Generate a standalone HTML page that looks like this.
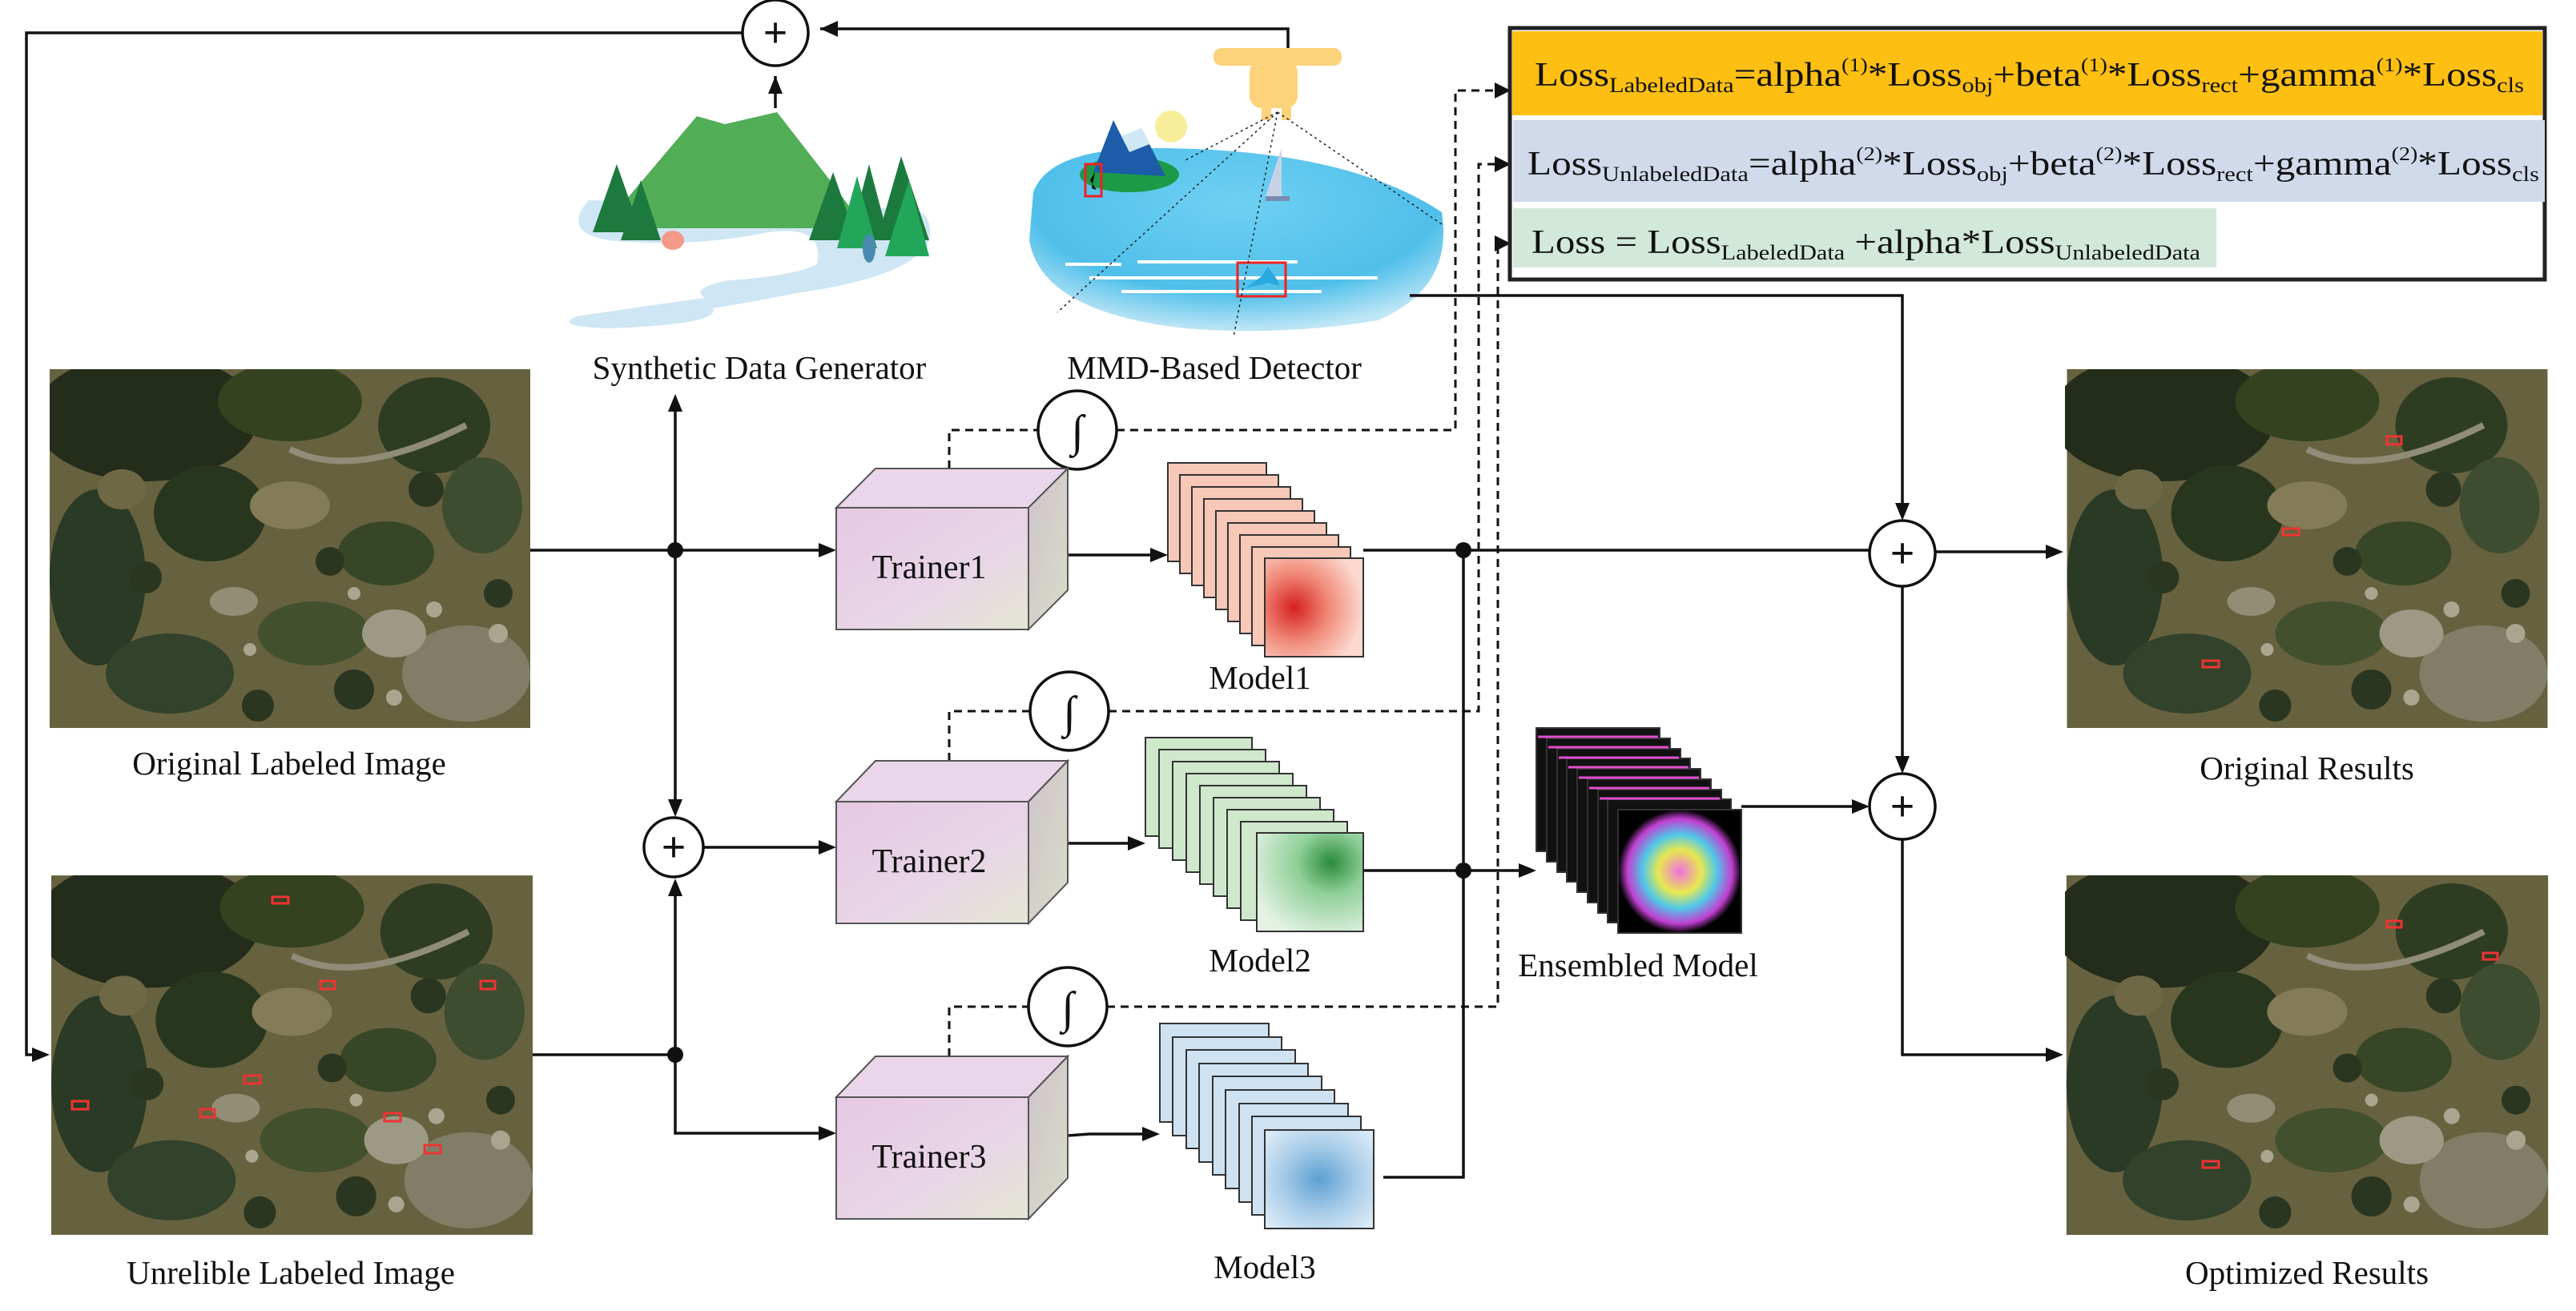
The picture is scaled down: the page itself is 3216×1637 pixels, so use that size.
<!DOCTYPE html>
<html><head><meta charset="utf-8"><style>
html,body{margin:0;padding:0;background:#fff;}
svg{display:block;}
text{font-family:"Liberation Serif",serif;fill:#111;}
</style></head><body>
<svg width="3216" height="1637" viewBox="0 0 3216 1637" xmlns="http://www.w3.org/2000/svg">
<defs>
<linearGradient id="cubeF" x1="0" y1="0" x2="1" y2="1"><stop offset="0" stop-color="#e6c8e4"/><stop offset="0.6" stop-color="#e8d6e6"/><stop offset="1" stop-color="#e4e6d4"/></linearGradient>
<linearGradient id="cubeR" x1="0" y1="0" x2="1" y2="1"><stop offset="0" stop-color="#cfc3cc"/><stop offset="1" stop-color="#d8dcc8"/></linearGradient>
<radialGradient id="water" cx="0.5" cy="0.3" r="0.7"><stop offset="0" stop-color="#6fd0f2"/><stop offset="0.7" stop-color="#4fbfea"/><stop offset="1" stop-color="#bfe6f6"/></radialGradient>
<radialGradient id="red" cx="0.3" cy="0.5" r="0.7"><stop offset="0" stop-color="#d62020"/><stop offset="0.5" stop-color="#f08a78"/><stop offset="1" stop-color="#fbd9cf"/></radialGradient>
<radialGradient id="grn" cx="0.7" cy="0.3" r="0.8"><stop offset="0" stop-color="#2a8a3a"/><stop offset="0.4" stop-color="#8fcf98"/><stop offset="1" stop-color="#e3f2e3"/></radialGradient>
<radialGradient id="blu" cx="0.5" cy="0.5" r="0.7"><stop offset="0" stop-color="#5d9fd2"/><stop offset="0.5" stop-color="#a9cde9"/><stop offset="1" stop-color="#e3eff8"/></radialGradient>
<radialGradient id="ens" cx="0.5" cy="0.5" r="0.5"><stop offset="0" stop-color="#f070e0"/><stop offset="0.35" stop-color="#e8e850"/><stop offset="0.6" stop-color="#50c8e8"/><stop offset="0.85" stop-color="#c040d0"/><stop offset="1" stop-color="#000"/></radialGradient>
<symbol id="aerial" viewBox="0 0 600 448">
<rect width="600" height="448" fill="#66623f"/>
<ellipse cx="120" cy="60" rx="140" ry="80" fill="#242c1a"/>
<ellipse cx="300" cy="40" rx="90" ry="50" fill="#34421f"/>
<ellipse cx="480" cy="70" rx="70" ry="60" fill="#2e3c22"/>
<ellipse cx="200" cy="180" rx="70" ry="60" fill="#29361e"/>
<ellipse cx="60" cy="260" rx="60" ry="110" fill="#2a3a24"/>
<ellipse cx="420" cy="230" rx="60" ry="40" fill="#364626"/>
<ellipse cx="540" cy="170" rx="50" ry="60" fill="#3e4c30"/>
<ellipse cx="330" cy="330" rx="70" ry="40" fill="#42502e"/>
<ellipse cx="150" cy="380" rx="80" ry="50" fill="#33422a"/>
<ellipse cx="520" cy="380" rx="80" ry="60" fill="#807e66"/>
<ellipse cx="300" cy="170" rx="50" ry="30" fill="#847b58"/>
<ellipse cx="430" cy="330" rx="40" ry="30" fill="#9c9984"/>
<path d="M300 100 Q380 140 520 70" stroke="#8f8c78" stroke-width="8" fill="none"/>
<ellipse cx="230" cy="290" rx="30" ry="18" fill="#928e76"/>
<ellipse cx="90" cy="150" rx="30" ry="25" fill="#6e6846"/>
<g fill="#2b3620"><circle cx="380" cy="400" r="25"/><circle cx="260" cy="420" r="20"/><circle cx="470" cy="150" r="22"/><circle cx="350" cy="240" r="18"/><circle cx="120" cy="260" r="20"/><circle cx="560" cy="280" r="18"/></g>
<g fill="#a9a690"><circle cx="480" cy="300" r="10"/><circle cx="380" cy="280" r="8"/><circle cx="560" cy="330" r="12"/><circle cx="250" cy="350" r="8"/><circle cx="430" cy="410" r="10"/></g>
</symbol>
</defs>

<use href="#aerial" x="62" y="461" width="600" height="448"/>
<use href="#aerial" x="64" y="1093" width="601" height="449"/>
<use href="#aerial" x="2578" y="461" width="605" height="448"/>
<use href="#aerial" x="2578" y="1093" width="605" height="449"/>
<g fill="none" stroke="#e33" stroke-width="3">
<rect x="340" y="1120" width="20" height="8"/><rect x="600" y="1225" width="18" height="10"/><rect x="400" y="1225" width="18" height="10"/><rect x="305" y="1343" width="20" height="10"/><rect x="480" y="1390" width="20" height="10"/><rect x="90" y="1375" width="20" height="10"/><rect x="250" y="1385" width="18" height="10"/><rect x="530" y="1430" width="20" height="10"/>
<rect x="2850" y="660" width="20" height="8"/><rect x="2980" y="545" width="18" height="10"/><rect x="2750" y="825" width="20" height="8"/>
<rect x="3100" y="1190" width="18" height="8"/><rect x="2980" y="1150" width="18" height="8"/><rect x="2750" y="1450" width="20" height="8"/>
</g>

<g font-size="41" text-anchor="middle">
<text x="361" y="967">Original Labeled Image</text>
<text x="363" y="1603">Unrelible Labeled Image</text>
<text x="948" y="473">Synthetic Data Generator</text>
<text x="1516" y="473">MMD-Based Detector</text>
<text x="1573" y="860">Model1</text>
<text x="1573" y="1213">Model2</text>
<text x="1579" y="1596">Model3</text>
<text x="2045" y="1219">Ensembled Model</text>
<text x="2880" y="973">Original Results</text>
<text x="2880" y="1603">Optimized Results</text>
</g>

<!-- synthetic scene -->
<g>
<path d="M735 250 Q700 290 760 300 Q860 310 960 290 Q1030 280 1020 330 Q990 345 910 350 Q860 360 880 372 Q820 380 720 395 Q690 408 760 410 Q900 405 890 385 Q950 375 1000 365 Q1140 345 1160 300 Q1170 250 1100 260 Z" fill="#cfe6f4"/>
<path d="M760 275 L870 145 L905 155 L970 140 L1040 230 L1080 285 L760 285 Z" fill="#52ad57"/>
<g fill="#1d7a3e">
<path d="M740 290 L770 205 L800 290Z"/><path d="M775 300 L800 225 L825 300Z"/>
<path d="M1010 300 L1040 215 L1070 300Z"/><path d="M1060 300 L1085 205 L1110 300Z"/><path d="M1095 300 L1125 195 L1160 300Z"/>
</g>
<g fill="#22a75a"><path d="M1105 320 L1135 225 L1160 320Z"/><path d="M1045 310 L1070 220 L1095 310Z"/></g>
<ellipse cx="840" cy="300" rx="14" ry="12" fill="#f49a88"/>
<ellipse cx="1085" cy="310" rx="8" ry="18" fill="#4a8ab0"/>
</g>

<!-- detector scene -->
<g>
<path d="M1290 240 Q1310 185 1440 185 Q1680 185 1800 265 Q1815 360 1720 400 Q1600 420 1480 410 Q1300 390 1285 300 Z" fill="url(#water)"/>
<circle cx="1462" cy="158" r="20" fill="#f7ee9a"/>
<ellipse cx="1410" cy="218" rx="62" ry="22" fill="#1c9a48"/>
<path d="M1365 215 L1390 150 L1405 180 L1425 160 L1455 220 Z" fill="#1c5ca8"/>
<path d="M1390 150 L1400 170 L1425 160 L1435 180 L1410 190Z" fill="#cfe8f6"/>
<rect x="1355" y="205" width="20" height="40" fill="none" stroke="#e22" stroke-width="3"/>
<path d="M1367 215 l-6 10 l8 12 l-6 -2z" fill="#000"/>
<path d="M1600 185 L1600 245 L1580 245Z" fill="#c8d2e6"/><rect x="1580" y="245" width="30" height="6" fill="#7a8ab0"/>
<g stroke="#fff" stroke-width="4"><line x1="1330" y1="330" x2="1400" y2="330"/><line x1="1420" y1="327" x2="1620" y2="327"/><line x1="1360" y1="347" x2="1720" y2="347"/><line x1="1400" y1="364" x2="1650" y2="364"/></g>
<rect x="1545" y="328" width="60" height="42" fill="none" stroke="#e22" stroke-width="3"/>
<path d="M1555 360 l20 -15 l8 -12 l10 14 l5 10 l-15 -4 z" fill="#2aa8e0"/>
<g fill="#fcd27a"><rect x="1515" y="60" width="160" height="22" rx="10"/><rect x="1560" y="75" width="60" height="60" rx="15"/><rect x="1575" y="120" width="12" height="30"/><rect x="1600" y="120" width="12" height="30"/></g>
<g stroke="#222" stroke-width="1.5" stroke-dasharray="3 4" fill="none">
<line x1="1595" y1="140" x2="1320" y2="390"/><line x1="1595" y1="140" x2="1540" y2="420"/><line x1="1595" y1="140" x2="1800" y2="280"/><line x1="1595" y1="140" x2="1480" y2="200"/>
</g>
</g>

<g stroke="#111" stroke-width="3.5" fill="none">
<polyline points="927,41 33,41 33,1317 52,1317"/>
<polyline points="1608,60 1608,36 1024,36"/>
<line x1="968" y1="135" x2="968" y2="95"/>
<line x1="662" y1="687" x2="1030" y2="687"/>
<line x1="843" y1="687" x2="843" y2="500"/>
<line x1="843" y1="687" x2="843" y2="1012"/>
<line x1="878" y1="1058" x2="1030" y2="1058"/>
<line x1="665" y1="1317" x2="843" y2="1317"/>
<line x1="843" y1="1317" x2="843" y2="1105"/>
<polyline points="843,1317 843,1415 1030,1415"/>
<line x1="1333" y1="693" x2="1440" y2="693"/>
<line x1="1333" y1="1053" x2="1412" y2="1053"/>
<polyline points="1333,1418 1360,1416 1430,1416"/>
<line x1="1702" y1="687" x2="2334" y2="687"/>
<line x1="1702" y1="1087" x2="1900" y2="1087"/>
<polyline points="1727,1470 1827,1470 1827,687"/>
<polyline points="1760,369 2375,369 2375,630"/>
<line x1="2416" y1="689" x2="2560" y2="689"/>
<line x1="2375" y1="732" x2="2375" y2="948"/>
<line x1="2174" y1="1007" x2="2318" y2="1007"/>
<polyline points="2375,1048 2375,1317 2560,1317"/>
</g>
<g fill="#111">
<path d="M1024 36 l22 -10 v20z"/>
<path d="M968 95 l-9 22 h18z"/>
<path d="M62 1317 l-22 -9 v18z"/>
<path d="M843 492 l-9 22 h18z"/>
<path d="M843 1020 l-9 -22 h18z"/>
<path d="M843 1097 l-9 22 h18z"/>
<path d="M1044 687 l-22 -9 v18z"/>
<path d="M1044 1058 l-22 -9 v18z"/>
<path d="M1044 1415 l-22 -9 v18z"/>
<path d="M1458 693 l-22 -9 v18z"/>
<path d="M1430 1053 l-22 -9 v18z"/>
<path d="M1448 1416 l-22 -9 v18z"/>
<path d="M1918 1087 l-22 -9 v18z"/>
<path d="M2375 650 l-9 -22 h18z"/>
<path d="M2576 689 l-22 -9 v18z"/>
<path d="M2375 966 l-9 -22 h18z"/>
<path d="M2334 1007 l-22 -9 v18z"/>
<path d="M2576 1317 l-22 -9 v18z"/>
<circle cx="843" cy="687" r="10"/><circle cx="843" cy="1317" r="10"/>
<circle cx="1827" cy="687" r="10"/><circle cx="1827" cy="1087" r="10"/>
</g>

<g stroke="#111" stroke-width="3" fill="none" stroke-dasharray="10 7">
<polyline points="1185,585 1185,537 1296,537"/><polyline points="1394,537 1817,537 1817,113 1868,113"/>
<polyline points="1185,950 1185,888 1286,888"/><polyline points="1384,888 1846,888 1846,205 1868,205"/>
<polyline points="1185,1319 1185,1257 1284,1257"/><polyline points="1382,1257 1870,1257 1870,304 1868,304"/>
</g>
<g fill="#111">
<path d="M1886 113 l-20 -10 v20z"/><path d="M1886 205 l-20 -10 v20z"/><path d="M1886 304 l-20 -10 v20z"/>
</g>

<g stroke="#111" stroke-width="3.5" fill="#fff">
<circle cx="968" cy="41" r="41"/>
<circle cx="841" cy="1058" r="37"/>
<circle cx="2375" cy="691" r="41"/>
<circle cx="2375" cy="1007" r="41"/>
<circle cx="1345" cy="537" r="49"/>
<circle cx="1335" cy="888" r="49"/>
<circle cx="1333" cy="1257" r="49"/>
</g>
<g font-size="54" text-anchor="middle" font-weight="bold">
<text x="968" y="59">+</text><text x="841" y="1076">+</text><text x="2375" y="709">+</text><text x="2375" y="1025">+</text>
</g>
<g font-size="56" text-anchor="middle">
<text x="1345" y="557">∫</text><text x="1335" y="908">∫</text><text x="1333" y="1277">∫</text>
</g>

<g stroke="#555" stroke-width="2">
<g><path d="M1044 634 L1093 585 L1333 585 L1284 634Z" fill="#ead6ea"/><path d="M1284 634 L1333 585 L1333 737 L1284 786Z" fill="url(#cubeR)"/><rect x="1044" y="634" width="240" height="152" fill="url(#cubeF)"/></g>
<g><path d="M1044 1001 L1093 950 L1333 950 L1284 1001Z" fill="#ead6ea"/><path d="M1284 1001 L1333 950 L1333 1102 L1284 1153Z" fill="url(#cubeR)"/><rect x="1044" y="1001" width="240" height="152" fill="url(#cubeF)"/></g>
<g><path d="M1044 1370 L1093 1319 L1333 1319 L1284 1370Z" fill="#ead6ea"/><path d="M1284 1370 L1333 1319 L1333 1471 L1284 1522Z" fill="url(#cubeR)"/><rect x="1044" y="1370" width="240" height="152" fill="url(#cubeF)"/></g>
</g>
<g font-size="42" text-anchor="middle">
<text x="1160" y="722">Trainer1</text><text x="1160" y="1089">Trainer2</text><text x="1160" y="1458">Trainer3</text>
</g>

<g stroke="#333" stroke-width="2">
<g fill="#f7c7b8">
<rect x="1458" y="578" width="123" height="123"/><rect x="1473" y="593" width="123" height="123"/><rect x="1488" y="608" width="123" height="123"/><rect x="1503" y="623" width="123" height="123"/><rect x="1518" y="638" width="123" height="123"/><rect x="1533" y="653" width="123" height="123"/><rect x="1548" y="668" width="123" height="123"/><rect x="1563" y="683" width="123" height="123"/>
<rect x="1579" y="697" width="123" height="123" fill="url(#red)"/>
</g>
<g fill="#cfe8cc">
<rect x="1430" y="921" width="133" height="123"/><rect x="1447" y="936" width="133" height="123"/><rect x="1464" y="951" width="133" height="123"/><rect x="1481" y="966" width="133" height="123"/><rect x="1498" y="981" width="133" height="123"/><rect x="1515" y="996" width="133" height="123"/><rect x="1532" y="1011" width="133" height="123"/><rect x="1549" y="1026" width="133" height="123"/>
<rect x="1569" y="1040" width="133" height="123" fill="url(#grn)"/>
</g>
<g fill="#cfe2f2">
<rect x="1448" y="1278" width="136" height="123"/><rect x="1464" y="1295" width="136" height="123"/><rect x="1481" y="1311" width="136" height="123"/><rect x="1497" y="1328" width="136" height="123"/><rect x="1514" y="1344" width="136" height="123"/><rect x="1530" y="1361" width="136" height="123"/><rect x="1547" y="1378" width="136" height="123"/><rect x="1563" y="1394" width="136" height="123"/>
<rect x="1579" y="1411" width="136" height="123" fill="url(#blu)"/>
</g>
<g fill="#111">
<rect x="1918" y="909" width="154" height="154"/><rect x="1931" y="922" width="154" height="154"/><rect x="1944" y="935" width="154" height="154"/><rect x="1956" y="947" width="154" height="154"/><rect x="1969" y="960" width="154" height="154"/><rect x="1982" y="973" width="154" height="154"/><rect x="1995" y="986" width="154" height="154"/><rect x="2007" y="998" width="154" height="154"/>
<rect x="2020" y="1011" width="154" height="154" fill="url(#ens)"/>
</g>
</g>
<g stroke="#e050d0" stroke-width="3" fill="none">
<line x1="1920" y1="920" x2="2070" y2="920"/><line x1="1933" y1="933" x2="2083" y2="933"/><line x1="1946" y1="946" x2="2096" y2="946"/><line x1="1958" y1="958" x2="2108" y2="958"/><line x1="1971" y1="971" x2="2121" y2="971"/><line x1="1984" y1="984" x2="2134" y2="984"/><line x1="1997" y1="997" x2="2147" y2="997"/>
</g>

<rect x="1885" y="35" width="1292" height="314" fill="#fff" stroke="#222" stroke-width="5"/>
<rect x="1888" y="39" width="1286" height="105" fill="#fdbf12"/>
<rect x="1889" y="150" width="1288" height="102" fill="#d0daeb"/>
<rect x="1889" y="260" width="878" height="74" fill="#d2e8da"/>
<g font-size="42">
<text x="1916" y="107" textLength="1235" lengthAdjust="spacingAndGlyphs">Loss<tspan font-size="26" dy="8">LabeledData</tspan><tspan dy="-8">=alpha</tspan><tspan font-size="24" dy="-18">(1)</tspan><tspan dy="18">*Loss</tspan><tspan font-size="26" dy="8">obj</tspan><tspan dy="-8">+beta</tspan><tspan font-size="24" dy="-18">(1)</tspan><tspan dy="18">*Loss</tspan><tspan font-size="26" dy="8">rect</tspan><tspan dy="-8">+gamma</tspan><tspan font-size="24" dy="-18">(1)</tspan><tspan dy="18">*Loss</tspan><tspan font-size="26" dy="8">cls</tspan></text>
<text x="1907" y="218" textLength="1263" lengthAdjust="spacingAndGlyphs">Loss<tspan font-size="26" dy="8">UnlabeledData</tspan><tspan dy="-8">=alpha</tspan><tspan font-size="24" dy="-18">(2)</tspan><tspan dy="18">*Loss</tspan><tspan font-size="26" dy="8">obj</tspan><tspan dy="-8">+beta</tspan><tspan font-size="24" dy="-18">(2)</tspan><tspan dy="18">*Loss</tspan><tspan font-size="26" dy="8">rect</tspan><tspan dy="-8">+gamma</tspan><tspan font-size="24" dy="-18">(2)</tspan><tspan dy="18">*Loss</tspan><tspan font-size="26" dy="8">cls</tspan></text>
<text x="1912" y="316" textLength="835" lengthAdjust="spacingAndGlyphs">Loss = Loss<tspan font-size="26" dy="8">LabeledData</tspan><tspan dy="-8"> +alpha*Loss</tspan><tspan font-size="26" dy="8">UnlabeledData</tspan></text>
</g>
</svg>
</body></html>
